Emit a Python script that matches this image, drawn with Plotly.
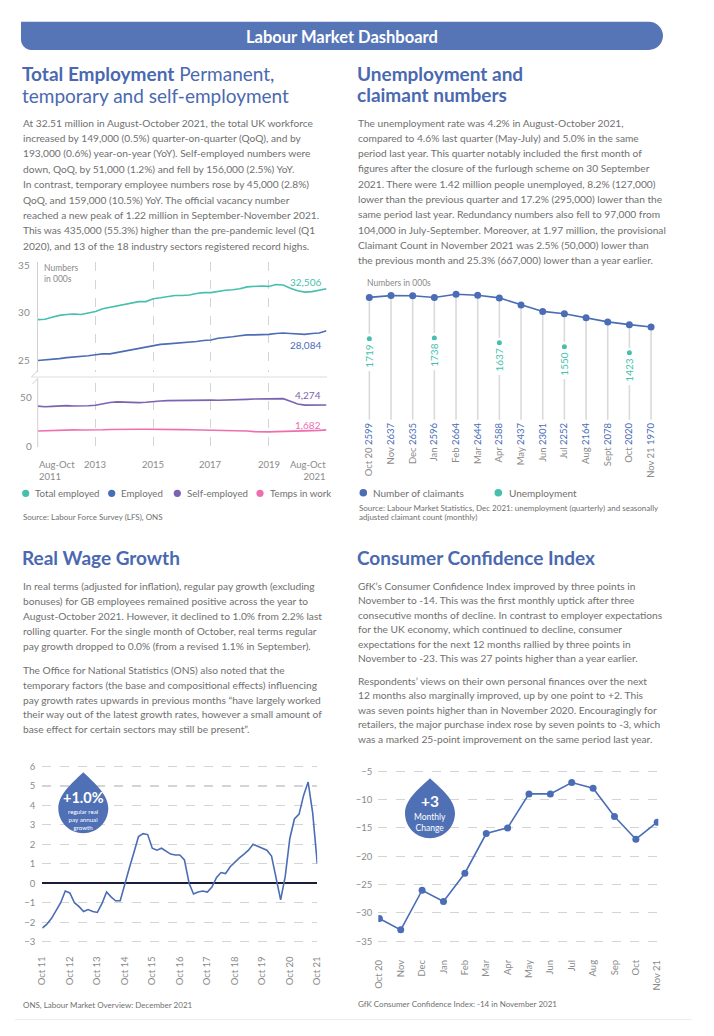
import plotly.graph_objects as go
import pandas as pd

# ---------------- data ----------------
# Total employment chart (quarterly readings, months since Aug-Oct 2011)
emp_months = list(range(0, 121, 3))
total_employed = [29.25, 29.3, 29.5, 29.7, 29.8, 29.85, 29.8, 29.95, 30.1, 30.4,
                  30.55, 30.75, 30.85, 31.0, 31.15, 31.15, 31.45, 31.55, 31.65, 31.8,
                  31.8, 31.85, 32.0, 32.1, 32.1, 32.25, 32.35, 32.4, 32.5, 32.7,
                  32.75, 32.8, 32.75, 32.95, 32.9, 32.55, 32.3, 32.15, 32.2, 32.35,
                  32.506]  # millions
employed = [24.95, 25.0, 25.05, 25.15, 25.25, 25.3, 25.4, 25.45, 25.55, 25.65,
            25.65, 25.8, 25.95, 26.1, 26.25, 26.4, 26.55, 26.65, 26.7, 26.75,
            26.8, 26.85, 26.95, 27.05, 27.1, 27.3, 27.35, 27.45, 27.55, 27.65,
            27.65, 27.65, 27.7, 27.8, 27.85, 27.8, 27.75, 27.7, 27.8, 27.85,
            28.084]  # millions
self_employed = [41.5, 40.8, 41.3, 41.8, 42.0, 41.7, 41.6, 41.9, 42.4, 44.0,
                 45.3, 46.0, 45.5, 45.3, 45.2, 45.6, 46.5, 46.8, 47.3, 47.5,
                 47.6, 47.8, 48.0, 48.1, 47.8, 47.6, 47.8, 47.6, 48.2, 48.6,
                 49.0, 49.1, 49.2, 49.7, 49.3, 46.5, 43.8, 42.6, 42.8, 42.9,
                 42.74]  # hundreds of thousands
temps = [15.6, 15.8, 16.3, 16.8, 17.0, 16.8, 16.6, 16.5, 16.6, 16.9,
         17.2, 17.4, 17.5, 17.6, 17.5, 17.4, 17.5, 17.4, 17.3, 17.2,
         17.1, 17.0, 16.9, 16.8, 16.7, 16.5, 16.4, 16.2, 16.0, 15.6,
         15.0, 14.6, 14.7, 15.0, 15.1, 15.0, 15.3, 15.6, 16.0, 16.3,
         16.82]  # hundreds of thousands
emp_tick_vals = [0, 24, 48, 72, 96, 120]
emp_tick_text = ["Aug-Oct<br>2011", "2013", "2015", "2017", "2019", "Aug-Oct<br>2021"]
emp_upper_ticks = [25, 30, 35]
emp_lower_ticks = [0, 50]

# Unemployment and claimant numbers (000s)
claim_months = ["Oct 20", "Nov", "Dec", "Jan", "Feb", "Mar", "Apr", "May",
                "Jun", "Jul", "Aug", "Sept", "Oct", "Nov 21"]
claimants = [2599, 2637, 2635, 2596, 2664, 2644, 2588, 2437, 2301, 2252,
             2164, 2078, 2020, 1970]
unemployment = [1719, None, None, 1738, None, None, 1637, None, None, 1550,
                None, None, 1423, None]

# Real wage growth (%, every two months from Oct 2011)
wage_dates = pd.date_range("2011-10-01", "2021-10-01", freq="2MS")
wage_growth = [-2.3, -2.1, -1.8, -1.4, -1.0, -0.4, -0.5, -1.0, -1.2, -1.45,
               -1.35, -1.45, -1.5, -1.05, -0.45, -0.7, -0.9, -0.9, 0.0, 0.8,
               1.6, 2.4, 2.55, 2.5, 1.8, 1.7, 1.8, 1.65, 1.5, 1.45,
               1.45, 1.2, 0.0, -0.55, -0.45, -0.4, -0.45, -0.2, 0.3, 0.55,
               0.5, 0.85, 1.1, 1.3, 1.5, 1.7, 2.0, 1.9, 1.8, 1.7,
               1.4, 0.35, -0.85, 0.35, 2.3, 3.3, 3.55, 4.5, 5.2, 3.6,
               1.0]
wage_tick_dates = pd.date_range("2011-10-01", "2021-10-01", freq="12MS")
wage_tick_text = ["Oct 11", "Oct 12", "Oct 13", "Oct 14", "Oct 15", "Oct 16",
                  "Oct 17", "Oct 18", "Oct 19", "Oct 20", "Oct 21"]
wage_y_ticks = [-3, -2, -1, 0, 1, 2, 3, 4, 5, 6]

# Consumer confidence index
conf_months = ["Oct 20", "Nov", "Dec", "Jan", "Feb", "Mar", "Apr", "May",
               "Jun", "Jul", "Aug", "Sep", "Oct", "Nov 21"]
confidence = [-31, -33, -26, -28, -23, -16, -15, -9, -9, -7, -8, -13, -17, -14]
conf_y_ticks = [-35, -30, -25, -20, -15, -10, -5]

# ---------------- styling ----------------
W, H = 714, 1036
FONT = "Lato"
HEAD = "#4a69b0"
BAR = "#5675b7"
BODY = "#707070"
TICK = "#8a8a8a"
TEAL = "#45bfae"
BLUE = "#4a6db5"
PURPLE = "#7c62b2"
PINK = "#ee6fae"
GRID = "#d4d4d4"
PARA = 10.2


def X(px):
    return px / W


def Y(py):
    return 1 - py / H


def P(x, y):
    return f"{x / W:.5f},{1 - y / H:.5f}"


fig = go.Figure()


def text(x, y, s, size=PARA, color=BODY, anchor="left", bold=False, yanchor="middle", **kw):
    if bold:
        s = f"<b>{s}</b>"
    fig.add_annotation(xref="paper", yref="paper", x=X(x), y=Y(y), text=s,
                       showarrow=False, xanchor=anchor, yanchor=yanchor, align=anchor,
                       borderpad=0, font=dict(family=FONT, size=size, color=color), **kw)


def dot(cx, cy, color, r=3.6):
    fig.add_shape(type="circle", xref="paper", yref="paper",
                  x0=X(cx - r), x1=X(cx + r), y0=Y(cy + r), y1=Y(cy - r),
                  fillcolor=color, line=dict(width=0))


def line(x0, y0, x1, y1, color="#d0d0d0", width=1):
    fig.add_shape(type="line", xref="paper", yref="paper",
                  x0=X(x0), y0=Y(y0), x1=X(x1), y1=Y(y1),
                  line=dict(color=color, width=width))


def drop(cx, cy, r, tipd, color):
    k = 0.5523 * r
    tip = (cx, cy - tipd)
    path = (f"M{P(*tip)} "
            f"C{P(cx + 0.3 * r, cy - tipd + 0.3 * r)} {P(cx + r, cy - 0.6 * r)} {P(cx + r, cy)} "
            f"C{P(cx + r, cy + k)} {P(cx + k, cy + r)} {P(cx, cy + r)} "
            f"C{P(cx - k, cy + r)} {P(cx - r, cy + k)} {P(cx - r, cy)} "
            f"C{P(cx - r, cy - 0.6 * r)} {P(cx - 0.3 * r, cy - tipd + 0.3 * r)} {P(*tip)} Z")
    fig.add_shape(type="path", xref="paper", yref="paper", path=path,
                  fillcolor=color, line=dict(width=0))


# ---------------- header ----------------
L, R, T, B = 21, 663, 21.7, 50
rr = (B - T) / 2
kk = 0.5523 * rr
rc = 10
header = (f"M{P(L, T)} L{P(R - rr, T)} "
          f"C{P(R - rr + kk, T)} {P(R, T + rr - kk)} {P(R, T + rr)} "
          f"C{P(R, T + rr + kk)} {P(R - rr + kk, B)} {P(R - rr, B)} "
          f"L{P(L + rc, B)} "
          f"C{P(L + rc - 0.5523 * rc, B)} {P(L, B - 0.5523 * rc)} {P(L, B - rc)} Z")
fig.add_shape(type="path", xref="paper", yref="paper", path=header,
              fillcolor=BAR, line=dict(width=0))
text(342, 37.5, "Labour Market Dashboard", size=16.5, color="white", anchor="center", bold=True)

# ---------------- section text ----------------
text(21, 74, "<b>Total Employment</b> Permanent,", size=19, color=HEAD)
text(21, 95.5, "temporary and self-employment", size=19, color=HEAD)
left_para = [
    "At 32.51 million in August-October 2021, the total UK workforce",
    "increased by 149,000 (0.5%) quarter-on-quarter (QoQ), and by",
    "193,000 (0.6%) year-on-year (YoY). Self-employed numbers were",
    "down, QoQ, by 51,000 (1.2%) and fell by 156,000 (2.5%) YoY.",
    "In contrast, temporary employee numbers rose by 45,000 (2.8%)",
    "QoQ, and 159,000 (10.5%) YoY. The official vacancy number",
    "reached a new peak of 1.22 million in September-November 2021.",
    "This was 435,000 (55.3%) higher than the pre-pandemic level (Q1",
    "2020), and 13 of the 18 industry sectors registered record highs.",
]
for i, s in enumerate(left_para):
    text(21.5, 122.7 + 15.37 * i, s)

text(356, 73, "Unemployment and", size=19, color=HEAD, bold=True)
text(356, 94.5, "claimant numbers", size=19, color=HEAD, bold=True)
right_para = [
    "The unemployment rate was 4.2% in August-October 2021,",
    "compared to 4.6% last quarter (May-July) and 5.0% in the same",
    "period last year. This quarter notably included the first month of",
    "figures after the closure of the furlough scheme on 30 September",
    "2021. There were 1.42 million people unemployed, 8.2% (127,000)",
    "lower than the previous quarter and 17.2% (295,000) lower than the",
    "same period last year. Redundancy numbers also fell to 97,000 from",
    "104,000 in July-September. Moreover, at 1.97 million, the provisional",
    "Claimant Count in November 2021 was 2.5% (50,000) lower than",
    "the previous month and 25.3% (667,000) lower than a year earlier.",
]
for i, s in enumerate(right_para):
    text(357, 122.7 + 15.26 * i, s)

text(21, 557.5, "Real Wage Growth", size=19, color=HEAD, bold=True)
wage_para1 = [
    "In real terms (adjusted for inflation), regular pay growth (excluding",
    "bonuses) for GB employees remained positive across the year to",
    "August-October 2021. However, it declined to 1.0% from 2.2% last",
    "rolling quarter. For the single month of October, real terms regular",
    "pay growth dropped to 0.0% (from a revised 1.1% in September).",
]
wage_para2 = [
    "The Office for National Statistics (ONS) also noted that the",
    "temporary factors (the base and compositional effects) influencing",
    "pay growth rates upwards in previous months “have largely worked",
    "their way out of the latest growth rates, however a small amount of",
    "base effect for certain sectors may still be present”.",
]
for i, s in enumerate(wage_para1):
    text(21.5, 586 + 15 * i, s)
for i, s in enumerate(wage_para2):
    text(21.5, 670 + 14.83 * i, s)

text(356, 557, "Consumer Confidence Index", size=19, color=HEAD, bold=True)
conf_para1 = [
    "GfK’s Consumer Confidence Index improved by three points in",
    "November to -14. This was the first monthly uptick after three",
    "consecutive months of decline. In contrast to employer expectations",
    "for the UK economy, which continued to decline, consumer",
    "expectations for the next 12 months rallied by three points in",
    "November to -23. This was 27 points higher than a year earlier.",
]
conf_para2 = [
    "Respondents’ views on their own personal finances over the next",
    "12 months also marginally improved, up by one point to +2. This",
    "was seven points higher than in November 2020. Encouragingly for",
    "retailers, the major purchase index rose by seven points to -3, which",
    "was a marked 25-point improvement on the same period last year.",
]
for i, s in enumerate(conf_para1):
    text(357, 585.7 + 14.5 * i, s)
for i, s in enumerate(conf_para2):
    text(357, 680.7 + 14.58 * i, s)

# ---------------- chart 1: total employment ----------------
for ys, col in [(total_employed, TEAL), (employed, BLUE)]:
    fig.add_trace(go.Scatter(x=emp_months, y=ys, mode="lines", xaxis="x", yaxis="y",
                             line=dict(color=col, width=1.6), hoverinfo="skip"))
for ys, col in [(self_employed, PURPLE), (temps, PINK)]:
    fig.add_trace(go.Scatter(x=emp_months, y=ys, mode="lines", xaxis="x2", yaxis="y2",
                             line=dict(color=col, width=1.6), hoverinfo="skip"))

end_labels = [
    ("x", "y", total_employed, 1000, TEAL, 7),
    ("x", "y", employed, 1000, BLUE, -14),
    ("x2", "y2", self_employed, 100, PURPLE, 10),
    ("x2", "y2", temps, 100, PINK, 5),
]
for xr, yr, ys, mult, col, sh in end_labels:
    fig.add_annotation(xref=xr, yref=yr, x=emp_months[-1], y=ys[-1],
                       text=f"{round(ys[-1] * mult):,}", showarrow=False,
                       xanchor="right", yanchor="middle", xshift=-4, yshift=sh,
                       font=dict(family=FONT, size=10, color=col))

for i, (v, t) in enumerate(zip(emp_tick_vals, emp_tick_text)):
    anc = "left" if i == 0 else ("right" if i == len(emp_tick_vals) - 1 else "center")
    fig.add_annotation(xref="x2", yref="paper", x=v, y=Y(458), text=t, showarrow=False,
                       xanchor=anc, yanchor="top", align=anc, borderpad=0,
                       font=dict(family=FONT, size=9.5, color=TICK))

text(43, 262, "Numbers<br>in 000s", size=8.5, color=TICK, yanchor="top", anchor="left")

# axis break
line(37.7, 370.5, 31.5, 377, color="#cfcfcf")
line(31.5, 377, 327, 377, color="#dcdcdc")
line(32.5, 384, 37.7, 378.5, color="#cfcfcf")
line(37.7, 378.5, 37.7, 447, color="#cfcfcf")

legend1 = [(25.7, TEAL, "Total employed"), (111.7, BLUE, "Employed"),
           (177.3, PURPLE, "Self-employed"), (260, PINK, "Temps in work")]
for cx, col, lab in legend1:
    dot(cx, 493.3, col)
    text(cx + 8.5, 493.5, lab, size=9.7, color=BODY)
text(21.5, 517.5, "Source: Labour Force Survey (LFS), ONS", size=8, color=BODY)

# ---------------- chart 2: unemployment & claimants ----------------
vx, vy = [], []
for i, c in enumerate(claimants):
    vx += [i, i, None]
    vy += [0, c, None]
fig.add_trace(go.Scatter(x=vx, y=vy, mode="lines", xaxis="x3", yaxis="y3",
                         line=dict(color="#dadada", width=1.6), hoverinfo="skip"))
fig.add_trace(go.Scatter(x=list(range(len(claimants))), y=claimants, mode="lines+markers",
                         xaxis="x3", yaxis="y3", line=dict(color=BLUE, width=1.6),
                         marker=dict(size=7, color=BLUE), hoverinfo="skip"))
fig.add_trace(go.Scatter(x=list(range(len(unemployment))), y=unemployment, mode="markers",
                         xaxis="x3", yaxis="y3",
                         marker=dict(size=7.5, color=TEAL, line=dict(color="white", width=2.5)),
                         hoverinfo="skip"))
for i, u in enumerate(unemployment):
    if u is not None:
        fig.add_annotation(xref="x3", yref="y3", x=i, y=u, text=str(u), showarrow=False,
                           textangle=-90, yshift=-17.5, xanchor="center", yanchor="middle",
                           bgcolor="white", borderpad=3,
                           font=dict(family=FONT, size=10, color=TEAL))
claim_tick_text = [f"{m} <span style='color:{BLUE}'>{c}</span>"
                   for m, c in zip(claim_months, claimants)]
text(366.5, 282.5, "Numbers in 000s", size=8.5, color=TICK)
dot(363.3, 492.7, BLUE, r=3.8)
text(371.5, 493, "Number of claimants", size=10, color=BODY)
dot(498.3, 492.7, TEAL, r=3.8)
text(507.5, 493, "Unemployment", size=10, color=BODY)
text(357.5, 507.5, "Source: Labour Market Statistics, Dec 2021: unemployment (quarterly) and seasonally",
     size=8, color=BODY)
text(357.5, 517.3, "adjusted claimant count (monthly)", size=8, color=BODY)

# ---------------- chart 3: real wage growth ----------------
fig.add_trace(go.Scatter(x=wage_dates, y=wage_growth, mode="lines", xaxis="x4", yaxis="y4",
                         line=dict(color=BLUE, width=1.6), hoverinfo="skip"))
drop(83.3, 808.3, 25, 36, "#5070b5")
text(83.3, 806.5, f"{wage_growth[-1]:+.1f}%", size=14.5, color="white", anchor="center",
     bold=True, yanchor="bottom")
text(83.3, 807, "regular real<br>pay annual<br>growth", size=6.2, color="white",
     anchor="center", yanchor="top")
text(21.5, 1005, "ONS, Labour Market Overview: December 2021", size=8, color=BODY)

# ---------------- chart 4: consumer confidence ----------------
fig.add_trace(go.Scatter(x=list(range(len(confidence))), y=confidence, mode="lines+markers",
                         xaxis="x5", yaxis="y5", line=dict(color=BLUE, width=1.6),
                         marker=dict(size=7, color=BLUE), hoverinfo="skip"))
drop(430, 813.3, 25, 35, "#5070b5")
text(430, 810.5, f"{confidence[-1] - confidence[-2]:+d}", size=15.5, color="white",
     anchor="center", bold=True, yanchor="bottom")
text(430, 811, "Monthly<br>Change", size=8.5, color="white", anchor="center", yanchor="top")
text(357, 1004, "GfK Consumer Confidence Index: -14 in November 2021", size=8, color=BODY)

line(15, 1019.5, 692, 1019.5, color="#ededed", width=1)

# ---------------- axes ----------------
tickfont = dict(family=FONT, size=9.5, color=TICK)
emp_x = dict(domain=[X(37.7), X(326.5)], range=[0, 120], showgrid=True, gridcolor=GRID,
             griddash="dash", gridwidth=1, tickvals=emp_tick_vals[1:], showticklabels=False,
             zeroline=False, showline=False, ticks="", fixedrange=True)
fig.update_layout(
    width=W, height=H, margin=dict(l=0, r=0, t=0, b=0, pad=0, autoexpand=False),
    paper_bgcolor="white", plot_bgcolor="rgba(0,0,0,0)", showlegend=False,
    font=dict(family=FONT, color=BODY),
    xaxis=dict(emp_x, anchor="y"),
    xaxis2=dict(emp_x, anchor="y2"),
    yaxis=dict(domain=[Y(372), Y(262)], range=[23.74, 35.32], tickvals=emp_upper_ticks,
               showgrid=False, zeroline=False, showline=True, linecolor="#cfcfcf",
               ticks="", tickfont=dict(family=FONT, size=10, color=TICK),
               ticklabelstandoff=5, anchor="x"),
    yaxis2=dict(domain=[Y(446.5), Y(383)], range=[-0.5, 65.6], tickvals=emp_lower_ticks,
                showgrid=False, zeroline=False, showline=False,
                ticks="", tickfont=dict(family=FONT, size=10, color=TICK),
                ticklabelstandoff=5, anchor="x2"),
    xaxis3=dict(domain=[X(358.5), X(661.9)], range=[-0.5, 13.5],
                tickvals=list(range(len(claim_months))), ticktext=claim_tick_text,
                tickangle=-90, tickfont=dict(family=FONT, size=9.5, color=TICK),
                showgrid=False, zeroline=False, showline=False, ticks="", anchor="y3"),
    yaxis3=dict(domain=[Y(420), Y(285)], range=[-6, 2862], visible=False, anchor="x3"),
    xaxis4=dict(domain=[X(42.3), X(317.3)], type="date",
                range=[wage_dates[0], wage_dates[-1]],
                tickvals=list(wage_tick_dates), ticktext=wage_tick_text, tickangle=-90,
                tickfont=tickfont, showgrid=False, zeroline=False, showline=False,
                ticks="", ticklabelstandoff=6, anchor="y4"),
    yaxis4=dict(domain=[Y(947.5), Y(760.6)], range=[-3.3, 6.3], tickvals=wage_y_ticks,
                showgrid=True, gridcolor=GRID, griddash="dash", gridwidth=1.2,
                zeroline=True, zerolinecolor="#1b1b3a", zerolinewidth=1.6,
                ticks="", tickfont=tickfont, ticklabelstandoff=6, anchor="x4"),
    xaxis5=dict(domain=[X(378.3), X(658.3)], range=[-0.05, 13.05],
                tickvals=list(range(len(conf_months))), ticktext=conf_months,
                tickangle=-90, tickfont=tickfont, showgrid=False, zeroline=False,
                showline=False, ticks="", ticklabelstandoff=9, anchor="y5"),
    yaxis5=dict(domain=[Y(948), Y(765)], range=[-36.2, -3.9], tickvals=conf_y_ticks,
                showgrid=True, gridcolor=GRID, griddash="dash", gridwidth=1.2,
                zeroline=False, ticks="", tickfont=tickfont, ticklabelstandoff=5,
                anchor="x5"),
)
for ax in ["xaxis", "xaxis2", "xaxis3", "xaxis4", "xaxis5",
           "yaxis", "yaxis2", "yaxis3", "yaxis4", "yaxis5"]:
    fig.layout[ax].automargin = False

fig.write_html("out.html", config={"displayModeBar": False, "staticPlot": True},
               post_script="document.body.style.margin='0';document.body.style.overflow='hidden';")
